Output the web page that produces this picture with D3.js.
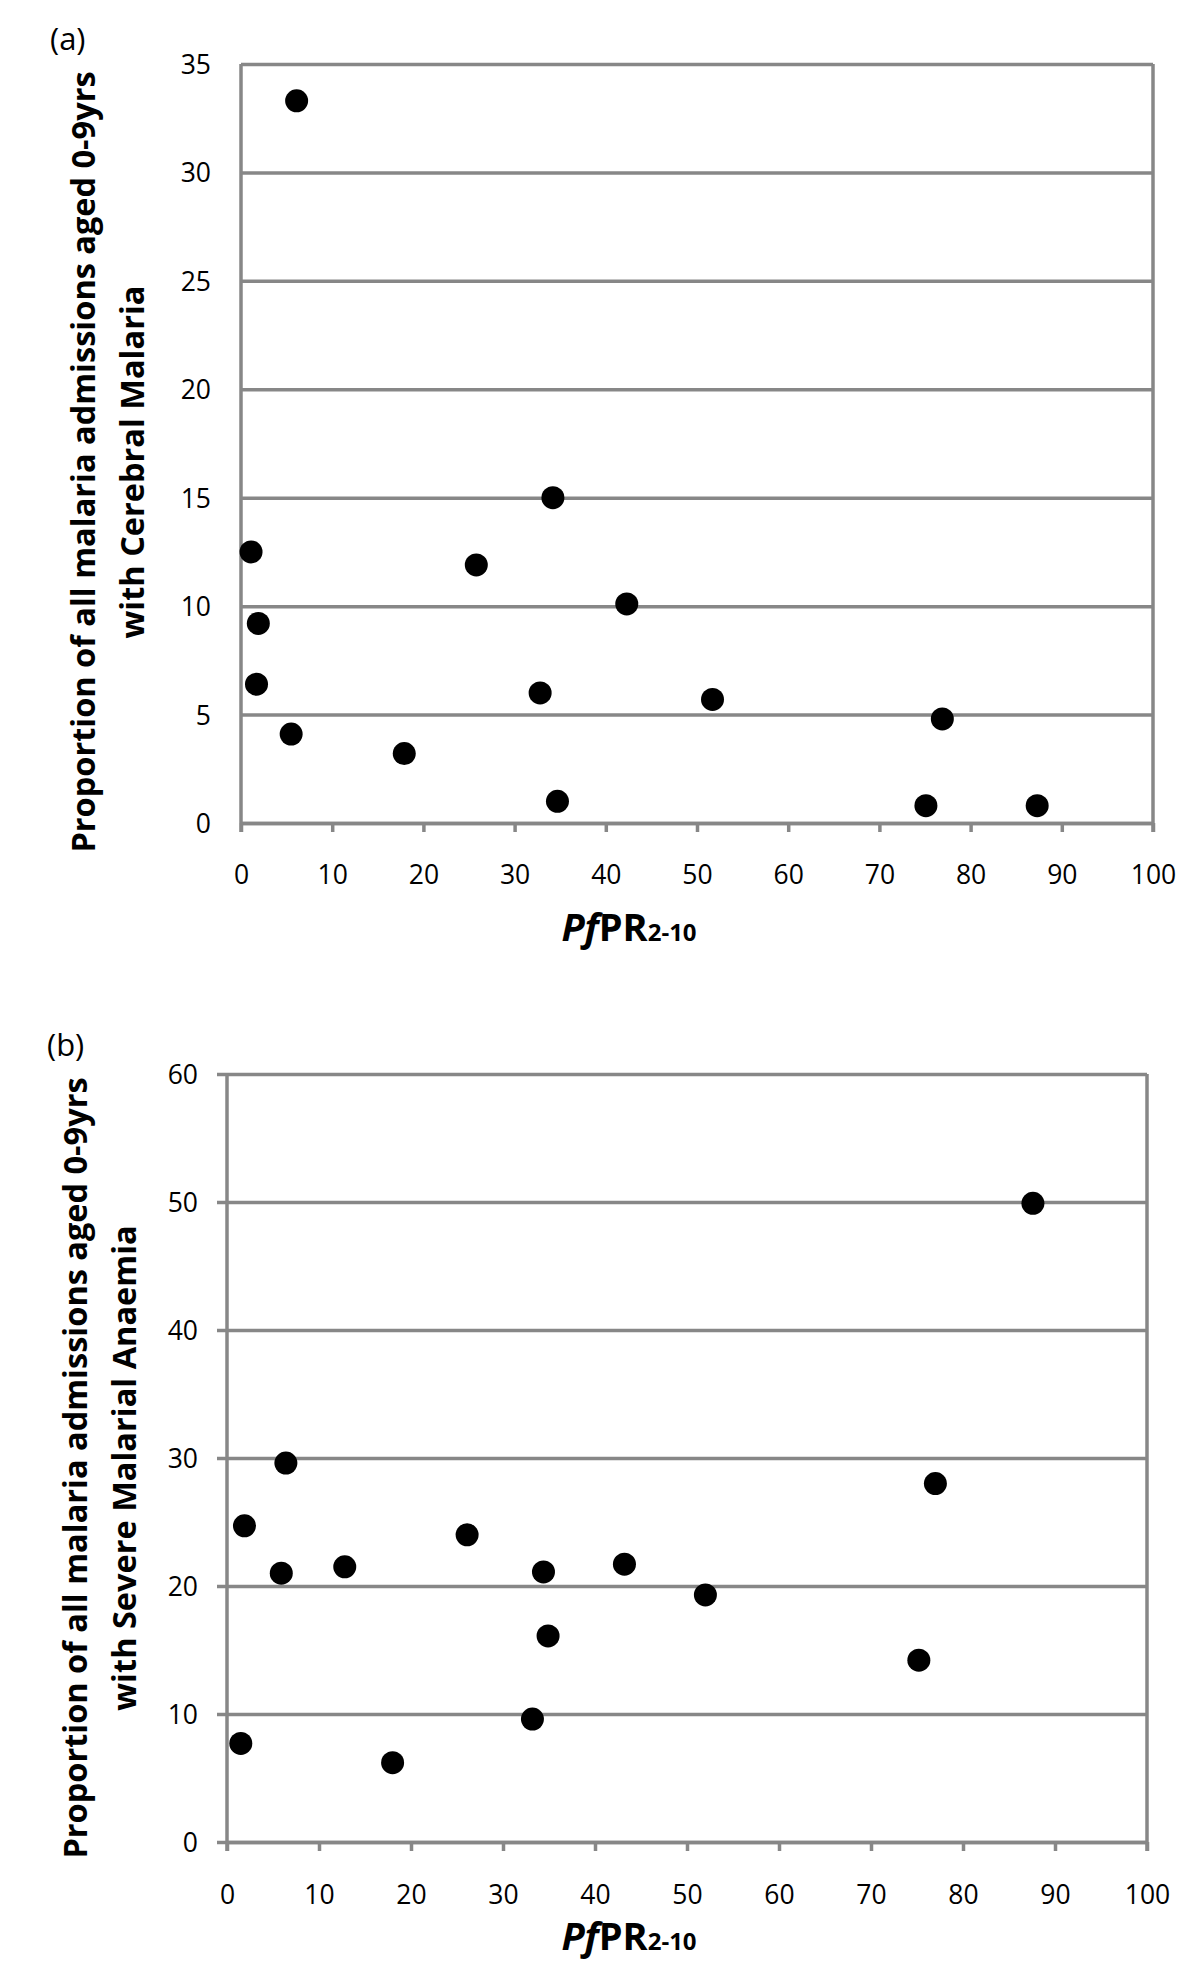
<!DOCTYPE html>
<html lang="en">
<head>
    <meta charset="utf-8">
    <script type="text/javascript" src="https://cdn.jsdelivr.net/npm/d3@7/dist/d3.min.js"></script>
    <style>
        body { margin: 0; background: #fff; }
        text { font-family: "Open Sans", sans-serif; fill: #000; }
    </style>
</head>
<body>
<script type="text/javascript">

    //Width and height
    let w = 1200;
    let h = 1971;

    // panel (a): cerebral malaria
    let pfprA = [6.1, 1.1, 1.9, 1.7, 5.5, 17.9, 25.8, 32.8, 34.2, 34.7, 42.3, 51.7, 75.1, 76.9, 87.3];
    let cmA = [33.3, 12.5, 9.2, 6.4, 4.1, 3.2, 11.9, 6.0, 15.0, 1.0, 10.1, 5.7, 0.8, 4.8, 0.8];

    // panel (b): severe malarial anaemia
    let pfprB = [1.9, 1.5, 6.4, 5.9, 12.8, 18.0, 26.1, 33.2, 34.4, 34.9, 43.2, 52.0, 75.2, 77.0, 87.6];
    let smaB = [24.7, 7.7, 29.6, 21.0, 21.5, 6.2, 24.0, 9.6, 21.1, 16.1, 21.7, 19.3, 14.2, 28.0, 49.9];

    let xTicks = [0, 10, 20, 30, 40, 50, 60, 70, 80, 90, 100];
    let yTicksA = [0, 5, 10, 15, 20, 25, 30, 35];
    let yTicksB = [0, 10, 20, 30, 40, 50, 60];

    let grey = "#878787";

    //Create SVG element
    let svg = d3.select("body")
        .append("svg")
        .attr("width", w)
        .attr("height", h);

    function panel(opt) {
        let g = svg.append("g");
        let x = d3.scaleLinear().domain([0, 100]).range([opt.left, opt.right]);
        let y = d3.scaleLinear().domain([0, opt.ymax]).range([opt.bottom, opt.top]);
        let pw = opt.right - opt.left;

        // horizontal grid lines + y labels
        let yAxis = g.append("g")
            .attr("transform", "translate(" + opt.left + ",0)")
            .call(d3.axisLeft(y).tickValues(opt.yTicks).tickSize(-pw).tickSizeOuter(0).tickPadding(opt.yPad));
        yAxis.select(".domain").remove();
        yAxis.selectAll(".tick line")
            .attr("x1", opt.yTickOut)
            .attr("stroke", grey)
            .attr("stroke-width", 3.5);
        yAxis.selectAll(".tick text")
            .attr("font-size", 26.5)
            .attr("font-family", "Open Sans")
            .attr("dy", "0.36em");

        // x axis
        let xAxis = g.append("g")
            .attr("transform", "translate(0," + opt.bottom + ")")
            .call(d3.axisBottom(x).tickValues(xTicks).tickSize(9).tickSizeOuter(0).tickPadding(opt.xPad));
        xAxis.select(".domain").attr("stroke", grey).attr("stroke-width", 3.5);
        xAxis.selectAll(".tick line").attr("stroke", grey).attr("stroke-width", 3.5);
        xAxis.selectAll(".tick text")
            .attr("font-size", 26.5)
            .attr("font-family", "Open Sans");

        // left and right borders
        g.append("line")
            .attr("x1", opt.left).attr("x2", opt.left)
            .attr("y1", opt.top).attr("y2", opt.bottom + 9)
            .attr("stroke", grey).attr("stroke-width", 3.5);
        g.append("line")
            .attr("x1", opt.right).attr("x2", opt.right)
            .attr("y1", opt.top).attr("y2", opt.bottom + 9)
            .attr("stroke", grey).attr("stroke-width", 3.5);

        // points
        g.selectAll("circle")
            .data(opt.xs.map((v, i) => [v, opt.ys[i]]))
            .enter()
            .append("circle")
            .attr("cx", d => x(d[0]))
            .attr("cy", d => y(d[1]))
            .attr("r", 11.5)
            .attr("fill", "#000");

        // panel letter
        g.append("text")
            .attr("x", opt.letterX).attr("y", opt.letterY)
            .attr("font-size", 31)
            .text(opt.letter);

        // y title
        let yt = g.append("text")
            .attr("transform", "translate(" + opt.titleX + "," + opt.titleY + ") rotate(-90)")
            .attr("text-anchor", "middle")
            .attr("font-weight", "bold")
            .attr("font-size", 32.5);
        yt.append("tspan").attr("x", 0).attr("dy", 0).text(opt.title1);
        yt.append("tspan").attr("x", 0).attr("dy", 49).text(opt.title2);

        // x title
        let xt = g.append("text")
            .attr("x", 629)
            .attr("y", opt.xTitleY)
            .attr("text-anchor", "middle")
            .attr("font-weight", "bold")
            .attr("font-size", 38);
        xt.append("tspan").attr("font-style", "italic").text("Pf");
        xt.append("tspan").text("PR");
        xt.append("tspan").attr("font-size", 24).text("2-10");
    }

    panel({
        left: 241, right: 1153, top: 64, bottom: 823, ymax: 35,
        yTicks: yTicksA, yTickOut: 0, yPad: 30, xPad: 33,
        xs: pfprA, ys: cmA,
        letter: "(a)", letterX: 50, letterY: 50,
        titleX: 95, titleY: 462,
        title1: "Proportion of all malaria admissions  aged 0-9yrs",
        title2: "with Cerebral Malaria",
        xTitleY: 941
    });

    panel({
        left: 227, right: 1147, top: 1074, bottom: 1842, ymax: 60,
        yTicks: yTicksB, yTickOut: -10, yPad: 29, xPad: 34,
        xs: pfprB, ys: smaB,
        letter: "(b)", letterX: 47, letterY: 1056,
        titleX: 87, titleY: 1468,
        title1: "Proportion of all malaria admissions aged  0-9yrs",
        title2: "with Severe Malarial Anaemia",
        xTitleY: 1950
    });

</script>
</body>
</html>
